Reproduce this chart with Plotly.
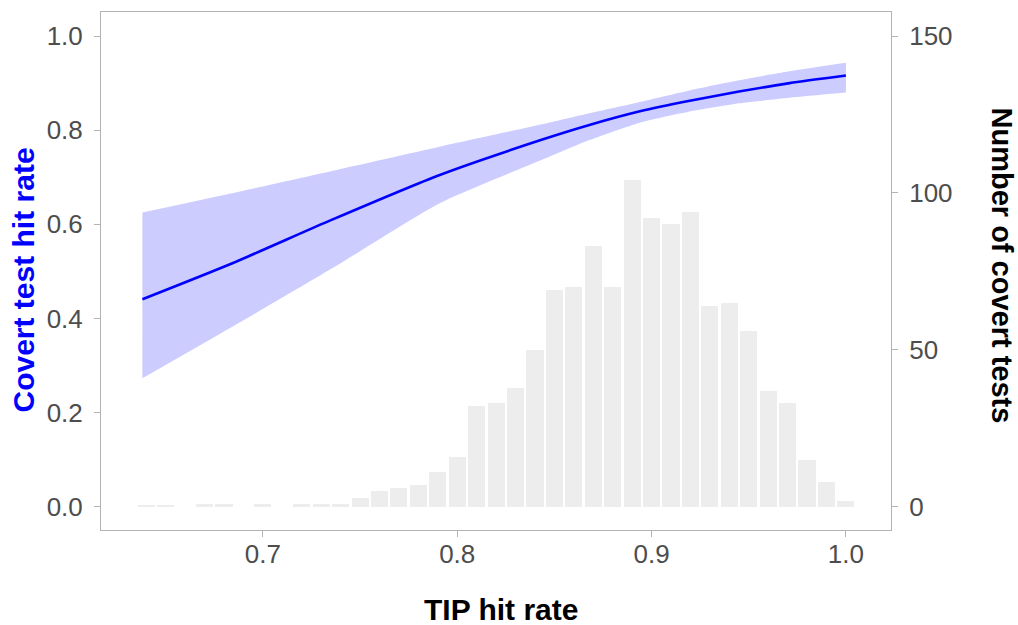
import plotly.graph_objects as go

# Histogram of TIP hit rate (bin centres, counts of covert tests per bin)
bin_centers = [0.64, 0.65, 0.66, 0.67, 0.68, 0.69, 0.70, 0.71, 0.72, 0.73, 0.74,
               0.75, 0.76, 0.77, 0.78, 0.79, 0.80, 0.81, 0.82, 0.83, 0.84, 0.85,
               0.86, 0.87, 0.88, 0.89, 0.90, 0.91, 0.92, 0.93, 0.94, 0.95, 0.96,
               0.97, 0.98, 0.99, 1.00]
bin_counts = [0.3, 0.3, 0, 1, 1, 0, 1, 0, 1, 1, 1,
              3, 5, 6, 7, 11, 16, 32, 33, 38, 50, 69,
              70, 83, 70, 104, 92, 90, 94, 64, 65, 56, 37,
              33, 15, 8, 2]

# Fitted covert test hit rate with its confidence band
fit_x = [0.638, 0.684, 0.735, 0.791, 0.843, 0.868, 0.894, 0.919, 0.945, 0.971, 1.000]
fit_mean = [0.441, 0.517, 0.609, 0.705, 0.779, 0.811, 0.840, 0.862, 0.882, 0.900, 0.916]
fit_upper = [0.625, 0.666, 0.713, 0.765, 0.812, 0.836, 0.860, 0.884, 0.906, 0.925, 0.943]
fit_lower = [0.273, 0.382, 0.505, 0.645, 0.736, 0.779, 0.816, 0.839, 0.857, 0.869, 0.880]

x_ticks = [0.7, 0.8, 0.9, 1.0]
rate_ticks = [0.0, 0.2, 0.4, 0.6, 0.8, 1.0]
count_ticks = [0, 50, 100, 150]

FONT = "Liberation Sans, Arial, sans-serif"
TICK_COLOR = "#4D4D4D"
FRAME_COLOR = "#B3B3B3"
SMOOTH = dict(shape="spline", smoothing=0.6)

fig = go.Figure()

fig.add_trace(go.Bar(
    x=bin_centers, y=bin_counts, width=0.0088,
    marker=dict(color="#EDEDED", line=dict(width=0)),
    yaxis="y", hoverinfo="skip", showlegend=False,
))

# confidence band: lower edge, then upper edge filled down to it
fig.add_trace(go.Scatter(
    x=fit_x, y=fit_lower, mode="lines", line=dict(width=0, **SMOOTH),
    yaxis="y2", hoverinfo="skip", showlegend=False,
))
fig.add_trace(go.Scatter(
    x=fit_x, y=fit_upper, mode="lines", line=dict(width=0, **SMOOTH),
    fill="tonexty", fillcolor="#CCCCFF",
    yaxis="y2", hoverinfo="skip", showlegend=False,
))

fig.add_trace(go.Scatter(
    x=fit_x, y=fit_mean, mode="lines",
    line=dict(color="#0000FF", width=2.6, **SMOOTH),
    yaxis="y2", showlegend=False,
))

axis_common = dict(
    showgrid=False, zeroline=False, showline=True, linecolor=FRAME_COLOR,
    linewidth=1, ticks="outside", ticklen=6, tickcolor=FRAME_COLOR, tickwidth=1,
    tickfont=dict(family=FONT, size=26, color=TICK_COLOR),
)

fig.update_layout(
    width=1018, height=625,
    margin=dict(l=101, r=127, t=12, b=95),
    paper_bgcolor="white", plot_bgcolor="white",
    bargap=0,
    xaxis=dict(range=[0.6167, 1.0232], tickvals=x_ticks, tickformat=".1f",
               mirror=True, ticklabelstandoff=-5, **axis_common),
    yaxis=dict(range=[-7.35, 157.65], tickvals=count_ticks, side="right",
               ticklabelstandoff=6, **axis_common),
    yaxis2=dict(range=[-0.049, 1.051], tickvals=rate_ticks, tickformat=".1f",
                side="left", overlaying="y", ticklabelstandoff=6, **axis_common),
    annotations=[
        dict(text="Covert test hit rate", xref="paper", yref="paper",
             x=(22.5 - 101) / 790, y=(530 - 280) / 518, textangle=-90,
             showarrow=False, xanchor="center", yanchor="middle",
             font=dict(family=FONT, size=30, color="#0000FF", weight="bold")),
        dict(text="Number of covert tests", xref="paper", yref="paper",
             x=(1002 - 101) / 790, y=(530 - 265.5) / 518, textangle=90,
             showarrow=False, xanchor="center", yanchor="middle",
             font=dict(family=FONT, size=29, color="black", weight="bold")),
        dict(text="TIP hit rate", xref="paper", yref="paper",
             x=(501 - 101) / 790, y=(530 - 609) / 518,
             showarrow=False, xanchor="center", yanchor="middle",
             font=dict(family=FONT, size=30, color="black", weight="bold")),
    ],
)

fig.write_html("out.html")
